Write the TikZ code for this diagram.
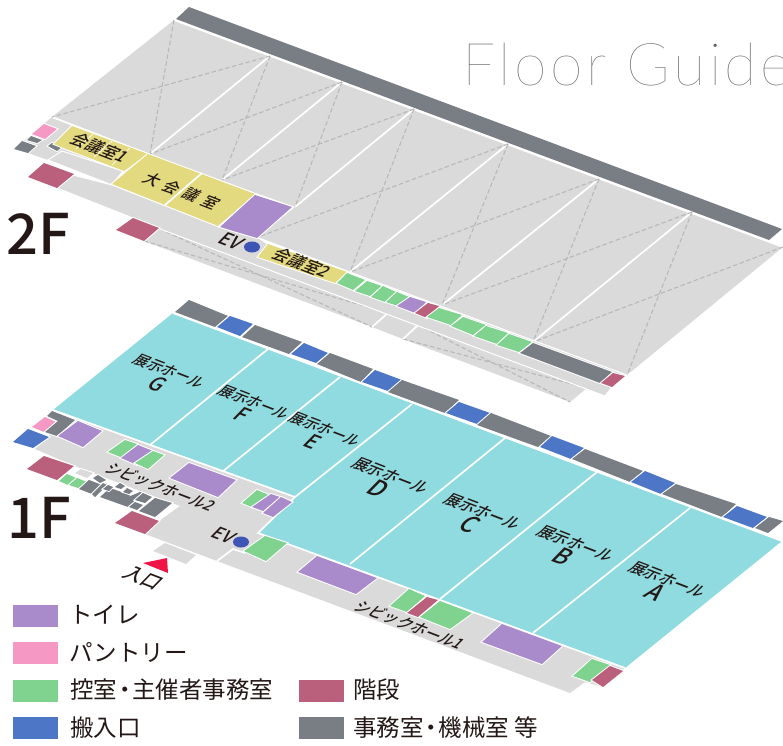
\documentclass[tikz,border=0pt]{standalone}
\usepackage{fontspec}
\newfontfamily\jpfont{Noto Sans CJK JP}
\newfontfamily\jpmedium{Noto Sans CJK JP Medium}
\newfontfamily\guidefont[LetterSpace=6]{Lato Hairline}
\usetikzlibrary{calc}
\definecolor{hallgray}{HTML}{DADADA}
\definecolor{halllteal}{HTML}{8FDBE0}
\definecolor{toiletpurple}{HTML}{A98BCB}
\definecolor{pantrypink}{HTML}{F598C4}
\definecolor{waitgreen}{HTML}{80D28F}
\definecolor{stairrose}{HTML}{BA5F7C}
\definecolor{officegray}{HTML}{797E85}
\definecolor{loadblue}{HTML}{4D76C6}
\definecolor{meetyellow}{HTML}{E3DA80}
\definecolor{evblue}{HTML}{3F55B5}
\definecolor{entrancered}{HTML}{F01446}
\definecolor{guidegray}{HTML}{5F6368}
\definecolor{inkdark}{HTML}{231815}
\tikzset{
  roomedge/.style={draw=none, preaction={draw=white, line width=2pt}},
  hallfloor/.style={fill=hallgray, draw=white, line width=1pt},
  wall/.style={draw=white, line width=1.7pt},
  voidline/.style={draw=black!28, line width=1.1pt, dash pattern=on 4.5pt off 2.5pt},
  toilet/.style={roomedge, fill=toiletpurple},
  pantry/.style={roomedge, fill=pantrypink},
  waitroom/.style={roomedge, fill=waitgreen},
  stairs/.style={roomedge, fill=stairrose},
  office/.style={roomedge, fill=officegray},
  loading/.style={roomedge, fill=loadblue},
  meeting/.style={roomedge, fill=meetyellow},
  skewlabel/.style={transform shape, cm={0.93,-0.36,0.78,0.8,(#1)}, inner sep=0pt, text=inkdark, font=\jpmedium\fontsize{14.5}{18}\selectfont},
  legendtext/.style={anchor=west, inner sep=0pt, text=inkdark, font=\jpfont\fontsize{23.5}{27}\selectfont},
  floorname/.style={inner sep=0pt, text=inkdark, font=\jpmedium\fontsize{56}{60}\selectfont}
}
\begin{document}
\begin{tikzpicture}[x=1pt, y=-1pt]
  \useasboundingbox (0,0) rectangle (783,745);
  \clip (0,0) rectangle (783,745);

  \begin{scope}
    \fill[hallgray] (160,229)--(587,388)--(570,402)--(403,339)--(372,327)--(144,241)--cycle;
    \draw[voidline] (160,229)--(372,327);
    \draw[voidline] (144,241)--(388,313);
    \draw[voidline] (418,325)--(570,402);
    \draw[voidline] (403,339)--(587,388);
    \draw[wall] (388,313)--(372,327);
    \draw[wall] (418,325)--(403,339);

    \draw[office] (189,7)--(782,229)--(769,240)--(176,19)--cycle;
    \fill[hallgray] (174,20)--(783,247)--(627,375)--(258,237)--(295,207)--(148,154)--(52,117)--cycle;
    \draw[wall] (174,20)--(783,247);

    \fill[hallgray] (52,117)--(148,154)--(124,171)--(62,151)--(48,160)--(28,153)--(14,149)--cycle;
    \draw[hallfloor] (62,151)--(123,171)--(112,185)--(48,160)--cycle;
    \draw[hallfloor] (73,175)--(112,185)--(220,227)--(258,238)--(268,244)--(347,272)--(627,375)--(612,387)--(605,396)--(160,229)--(133,218)--(57,188)--cycle;

    \draw[wall] (270,56)--(150,154);
    \draw[wall] (342,82)--(222,180);
    \draw[wall] (414,109)--(295,207);
    \draw[wall] (508,144)--(350,272);
    \draw[wall] (599,179)--(442,305);
    \draw[wall] (692,212)--(533,342);
    \draw[wall] (52,117)--(148,154);

    \draw[voidline] (174,20)--(150,154);
    \draw[voidline] (270,56)--(52,117);
    \draw[voidline] (270,56)--(222,180);
    \draw[voidline] (342,82)--(150,154);
    \draw[voidline] (342,82)--(295,207);
    \draw[voidline] (414,109)--(222,180);
    \draw[voidline] (414,109)--(350,272);
    \draw[voidline] (508,144)--(258,237);
    \draw[voidline] (508,144)--(442,305);
    \draw[voidline] (599,179)--(350,272);
    \draw[voidline] (599,179)--(533,342);
    \draw[voidline] (692,212)--(442,305);
    \draw[voidline] (692,212)--(627,375);
    \draw[voidline] (783,247)--(533,342);

    \draw[pantry] (32,134)--(44,124)--(57,129)--(45,139)--cycle;
    \draw[office] (27,140)--(31,136)--(42,140)--(37,143)--cycle;
    \draw[office] (14,149)--(22,141)--(36,146)--(28,153)--cycle;
    \draw[office] (48,146)--(52,143)--(62,147)--(57,151)--cycle;
    \draw[stairs] (28,177)--(44,163)--(74,174)--(57,188)--cycle;
    \draw[stairs] (116,230)--(133,218)--(159,228)--(144,241)--cycle;
    \draw[meeting] (72,126)--(148,154)--(124,171)--(66,149)--(54,144)--cycle;
    \draw[white, line width=0.6pt] (93,134)--(76,149);
    \draw[white, line width=0.6pt] (112,141)--(94,157);
    \draw[white, line width=0.6pt] (130,148)--(112,165);
    \draw[meeting] (148,154)--(255,194)--(218,226)--(112,184)--cycle;
    \draw[wall] (202,173)--(165,205);
    \draw[toilet] (255,195)--(292,207)--(257,238)--(220,227)--cycle;
    \draw[meeting] (268,244)--(347,272)--(335,283)--(258,257)--cycle;
    \draw[waitroom] (347,273)--(365,280)--(353,290)--(337,283)--cycle;
    \draw[waitroom] (367,281)--(382,286)--(370,296)--(355,291)--cycle;
    \draw[waitroom] (383,286)--(396,292)--(385,302)--(371,297)--cycle;
    \draw[waitroom] (397,292)--(409,297)--(398,306)--(386,302)--cycle;
    \draw[toilet] (410,297)--(426,302)--(415,313)--(397,306)--cycle;
    \draw[stairs] (428,303)--(439,306)--(427,318)--(415,313)--cycle;
    \draw[waitroom] (439,308)--(462,315)--(451,325)--(427,317)--cycle;
    \draw[waitroom] (463,317)--(486,325)--(473,335)--(451,326)--cycle;
    \draw[waitroom] (486,326)--(508,333)--(497,344)--(474,336)--cycle;
    \draw[waitroom] (509,334)--(532,342)--(519,352)--(497,345)--cycle;
    \draw[office] (533,343)--(612,372)--(600,383)--(520,353)--cycle;
    \draw[stairs] (613,373)--(625,376)--(612,387)--(601,383)--cycle;
    \fill[evblue] (252,247) ellipse (8 and 5.5);

    \node (roomone) [skewlabel={100,148}, font=\jpmedium\fontsize{16}{18}\selectfont] {会議室1};
    \node (roombig) [skewlabel={182,191}, font=\jpmedium\fontsize{15}{18}\selectfont] {大\hspace{6pt}会\hspace{6pt}議\hspace{6pt}室};
    \node (roomtwo) [skewlabel={302,263}, font=\jpmedium\fontsize{16}{18}\selectfont] {会議室2};
    \node (evtwo) [skewlabel={232,241}, font=\jpmedium\fontsize{18}{18}\selectfont] {EV};
    \node (floortwo) [floorname] at (38,234) {2F};
  \end{scope}

  \begin{scope}
    \draw[office] (189,300)--(228,316)--(215,327)--(175,312)--cycle;
    \draw[loading] (230,316)--(253,324)--(240,336)--(217,327)--cycle;
    \draw[office] (255,325)--(302,342)--(289,354)--(242,337)--cycle;
    \draw[loading] (304,343)--(328,353)--(316,363)--(291,354)--cycle;
    \draw[office] (330,353)--(373,369)--(361,382)--(317,364)--cycle;
    \draw[loading] (375,370)--(402,380)--(388,391)--(362,382)--cycle;
    \draw[office] (402,380)--(459,400)--(445,413)--(388,392)--cycle;
    \draw[loading] (459,402)--(490,413)--(477,424)--(446,413)--cycle;
    \draw[office] (491,413)--(551,436)--(538,447)--(477,425)--cycle;
    \draw[loading] (552,436)--(584,448)--(571,459)--(540,447)--cycle;
    \draw[office] (585,449)--(643,471)--(630,482)--(572,459)--cycle;
    \draw[loading] (645,471)--(675,483)--(661,494)--(631,482)--cycle;
    \draw[office] (676,484)--(736,504)--(722,517)--(662,494)--cycle;
    \draw[loading] (737,506)--(767,517)--(753,528)--(723,517)--cycle;
    \draw[office] (769,517)--(783,521)--(768,533)--(755,528)--cycle;

    \fill[hallgray] (53,410)--(295,497)--(258,533)--(625,668)--(603,687)--(585,682)--(570,693)--(217,561)--(145,534)--(159,521)--(180,506)--(77,467)--(35,449)--(49,437)--cycle;
    \fill[halllteal] (173,313)--(782,541)--(625,668)--(258,533)--(295,497)--(53,410)--cycle;
    \draw[wall] (53,410)--(295,497)--(258,533)--(625,668);
    \draw[wall] (173,313)--(782,541);
    \draw[wall] (268,349)--(150,445);
    \draw[wall] (340,377)--(222,472);
    \draw[wall] (412,404)--(295,497);
    \draw[wall] (505,438)--(350,564);
    \draw[wall] (597,472)--(440,599);
    \draw[wall] (690,508)--(533,633);
    \draw[wall] (217,561)--(233,549)--(245,553);

    \draw[loading] (13,442)--(28,429)--(49,437)--(33,448)--cycle;
    \draw[pantry] (32,427)--(45,417)--(56,422)--(44,432)--cycle;
    \draw[office] (52,411)--(75,420)--(57,436)--(45,432)--(58,421)--(47,416)--cycle;
    \draw[toilet] (78,421)--(102,431)--(83,447)--(58,436)--cycle;
    \draw[waitroom] (125,440)--(137,444)--(123,458)--(108,452)--cycle;
    \draw[toilet] (138,445)--(153,451)--(137,465)--(121,458)--cycle;
    \draw[waitroom] (153,451)--(164,455)--(148,469)--(135,463)--cycle;
    \draw[toilet] (189,463)--(236,480)--(218,497)--(170,478)--cycle;
    \draw[waitroom] (257,490)--(269,495)--(254,508)--(242,503)--cycle;
    \draw[toilet] (271,494)--(280,497)--(263,511)--(252,507)--cycle;
    \draw[toilet] (281,497)--(292,502)--(273,517)--(263,513)--cycle;
    \draw[waitroom] (244,551)--(265,536)--(287,543)--(266,561)--cycle;
    \draw[toilet] (317,556)--(377,578)--(356,594)--(298,572)--cycle;
    \draw[waitroom] (409,589)--(425,596)--(407,612)--(390,606)--cycle;
    \draw[stairs] (427,597)--(438,600)--(418,617)--(407,613)--cycle;
    \draw[waitroom] (440,601)--(472,613)--(450,629)--(420,617)--cycle;
    \draw[toilet] (502,624)--(562,646)--(542,664)--(482,642)--cycle;
    \draw[waitroom] (573,676)--(592,659)--(610,665)--(590,682)--cycle;
    \draw[stairs] (592,680)--(610,666)--(623,671)--(603,687)--cycle;

    \draw[stairs] (27,469)--(44,456)--(74,466)--(57,480)--cycle;
    \draw[stairs] (115,523)--(132,511)--(159,521)--(145,534)--cycle;
    \draw[roomedge, fill=hallgray] (75,473)--(81,469)--(93,473)--(87,478)--cycle;
    \draw[waitroom] (59,481)--(67,474)--(76,478)--(68,485)--cycle;
    \draw[waitroom] (69,485)--(77,478)--(87,482)--(78,488)--cycle;
    \draw[office] (79,489)--(89,480)--(102,485)--(92,494)--cycle;
    \draw[office] (93,478)--(98,475)--(106,480)--(100,483)--cycle;
    \draw[office] (92,494)--(103,483)--(107,485)--(95,497)--cycle;
    \draw[office] (100,497)--(110,488)--(130,495)--(128,497)--(140,492)--(143,493)--(128,507)--cycle;
    \draw[office] (103,489)--(108,485)--(113,487)--(109,491)--cycle;
    \draw[office] (115,487)--(120,483)--(125,486)--(121,489)--cycle;
    \draw[office] (123,492)--(127,488)--(133,491)--(129,494)--cycle;
    \draw[office] (129,507)--(135,502)--(143,505)--(137,510)--cycle;
    \draw[office] (135,500)--(143,493)--(152,497)--(145,503)--cycle;
    \draw[office] (139,511)--(155,498)--(172,503)--(155,517)--cycle;

    \fill[hallgray] (165,543)--(196,555)--(186,564)--(153,551)--cycle;
    \fill[entrancered] (167,558)--(168,573)--(143,563)--cycle;
    \fill[evblue] (241,542) ellipse (8 and 5.5);

    \node (hallg) [skewlabel={163,378}, align=center] {展示ホール\\\fontsize{20}{20}\selectfont G};
    \node (hallf) [skewlabel={248,409}, align=center] {展示ホール\\\fontsize{20}{20}\selectfont F};
    \node (halle) [skewlabel={319,436}, align=center] {展示ホール\\\fontsize{20}{20}\selectfont E};
    \node (halld) [skewlabel={384,483}, font=\jpmedium\fontsize{15.5}{19}\selectfont, align=center] {展示ホール\\\fontsize{23}{23}\selectfont D};
    \node (hallc) [skewlabel={476,519}, font=\jpmedium\fontsize{15.5}{19}\selectfont, align=center] {展示ホール\\\fontsize{23}{23}\selectfont C};
    \node (hallb) [skewlabel={569,551}, font=\jpmedium\fontsize{15.5}{19}\selectfont, align=center] {展示ホール\\\fontsize{23}{23}\selectfont B};
    \node (halla) [skewlabel={661,587}, font=\jpmedium\fontsize{15.5}{19}\selectfont, align=center] {展示ホール\\\fontsize{23}{23}\selectfont A};
    \node (civictwo) [skewlabel={161,487}, font=\jpmedium\fontsize{15}{18}\selectfont] {シビックホール2};
    \node (civicone) [skewlabel={410,625}, font=\jpmedium\fontsize{15}{18}\selectfont] {シビックホール1};
    \node (evone) [skewlabel={224,535}, font=\jpmedium\fontsize{17}{18}\selectfont] {EV};
    \node (entrance) [skewlabel={143,578}, font=\jpmedium\fontsize{18}{18}\selectfont] {入口};
    \node (floorone) [floorname] at (39,518) {1F};
  \end{scope}

  \node (guide) [anchor=base west, inner sep=0pt, text=guidegray, font=\guidefont\fontsize{59}{60}\selectfont] at (462,85) {Floor Guide};

  \fill[toiletpurple] (13,605) rectangle (58,627);
  \fill[pantrypink] (13,642) rectangle (58,664);
  \fill[waitgreen] (13,680) rectangle (58,702);
  \fill[loadblue] (13,717) rectangle (58,739);
  \fill[stairrose] (299,680) rectangle (344,702);
  \fill[officegray] (299,717) rectangle (344,739);
  \node (keytoilet) [legendtext] at (69,615) {トイレ};
  \node (keypantry) [legendtext] at (69,652) {パントリー};
  \node (keywait) [legendtext] at (70,690) {控室\hspace{-4.2pt}・\hspace{-4.2pt}主催者事務室};
  \node (keyload) [legendtext] at (70,728) {搬入口};
  \node (keystair) [legendtext] at (353,690) {階段};
  \node (keyoffice) [legendtext] at (353,728) {事務室\hspace{-4.2pt}・\hspace{-4.2pt}機械室 等};
\end{tikzpicture}
\end{document}
